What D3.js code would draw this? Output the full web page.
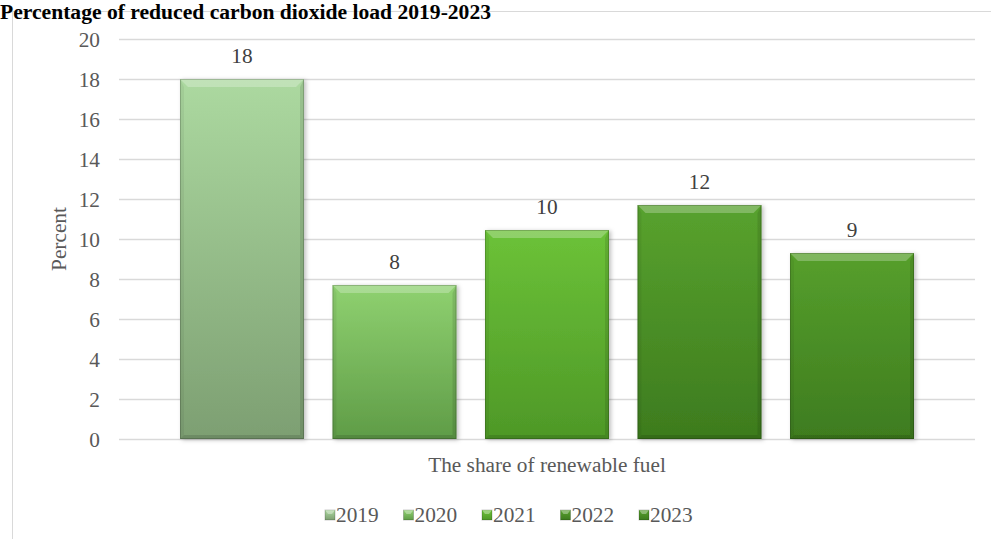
<!DOCTYPE html>
<html>
<head>
<meta charset="utf-8">
<script src="https://cdn.jsdelivr.net/npm/d3@7"></script>
<style>
  html, body { margin: 0; padding: 0; background: #fff; overflow: hidden; }
  svg { display: block; }
  text { font-family: "Liberation Serif", "Times New Roman", serif; }
</style>
</head>
<body>
<svg id="chart" width="991" height="539"></svg>
<script>
// ---- data ----
const title = "Percentage of reduced carbon dioxide load 2019-2023";
const category = "The share of renewable fuel";
const years = ["2019", "2020", "2021", "2022", "2023"];
const values = [18, 7.7, 10.45, 11.7, 9.3];
const labels = ["18", "8", "10", "12", "9"];
const yTicks = [0, 2, 4, 6, 8, 10, 12, 14, 16, 18, 20];
const topColors = ["#acd9a0", "#8fd170", "#6cc238", "#58a22e", "#569f2c"];
const bottomColors = ["#7d9f72", "#5f9c47", "#4e9827", "#3d7b1e", "#3e7c1f"];

const svg = d3.select("#chart");
const fontSize = 21.3;
const plot = { left: 119, right: 975, top: 39, bottom: 439 };

// frame
svg.append("rect")
  .attr("x", 12.5).attr("y", 11.5)
  .attr("width", 1100).attr("height", 700)
  .attr("fill", "#fff").attr("stroke", "#d9d9d9").attr("stroke-width", 1);

// title
svg.append("text")
  .attr("x", 0).attr("y", 19)
  .attr("font-size", 21.6).attr("font-weight", "bold").attr("fill", "#000")
  .text(title);

const y = d3.scaleLinear().domain([0, 20]).range([plot.bottom, plot.top]);
const x = d3.scaleBand().domain(years).range([plot.left, plot.right])
  .paddingInner(0.187).paddingOuter(0.4);

// gridlines
svg.append("g").selectAll("line").data(yTicks).join("line")
  .attr("x1", plot.left).attr("x2", plot.right)
  .attr("y1", d => Math.round(y(d)) + 0.5).attr("y2", d => Math.round(y(d)) + 0.5)
  .attr("stroke", "#d9d9d9").attr("stroke-width", 1.3);

// y axis labels
const yAxis = d3.axisLeft(y).tickValues(yTicks).tickSize(0).tickPadding(0);
const yg = svg.append("g").attr("transform", `translate(100,0)`).call(yAxis);
yg.select(".domain").remove();
yg.selectAll("text")
  .attr("font-family", '"Liberation Serif", "Times New Roman", serif')
  .attr("font-size", fontSize).attr("fill", "#595959").attr("dy", "0.34em");

// y axis title
svg.append("text")
  .attr("transform", "translate(66,239) rotate(-90)")
  .attr("text-anchor", "middle").attr("font-size", fontSize).attr("fill", "#595959")
  .text("Percent");

// gradients & filters
const defs = svg.append("defs");
years.forEach((yr, i) => {
  const g = defs.append("linearGradient").attr("id", "grad" + i)
    .attr("x1", 0).attr("y1", 0).attr("x2", 0).attr("y2", 1);
  g.append("stop").attr("offset", "0%").attr("stop-color", topColors[i]);
  g.append("stop").attr("offset", "100%").attr("stop-color", bottomColors[i]);
});
const f = defs.append("filter").attr("id", "shadow")
  .attr("x", "-10%").attr("y", "-10%").attr("width", "130%").attr("height", "130%");
f.append("feDropShadow").attr("dx", 2).attr("dy", 1).attr("stdDeviation", 2)
  .attr("flood-color", "#000").attr("flood-opacity", 0.25);

// bars
const bars = svg.append("g").selectAll("g").data(years).join("g");
bars.each(function (yr, i) {
  const g = d3.select(this);
  const x0 = x(yr), w = x.bandwidth();
  const y0 = y(values[i]), h = y(0) - y(values[i]);
  const b = 8;
  g.append("rect").attr("x", x0).attr("y", y0).attr("width", w).attr("height", h)
    .attr("fill", `url(#grad${i})`).attr("filter", "url(#shadow)");
  g.append("polygon")
    .attr("points", [[x0, y0], [x0 + w, y0], [x0 + w - b, y0 + b], [x0 + b, y0 + b]].join(" "))
    .attr("fill", "#fff").attr("opacity", 0.25);
  g.append("polygon")
    .attr("points", [[x0, y0], [x0 + b / 2, y0 + b], [x0 + b / 2, y0 + h - b / 2], [x0, y0 + h]].join(" "))
    .attr("fill", "#000").attr("opacity", 0.05);
  g.append("polygon")
    .attr("points", [[x0 + w, y0], [x0 + w - b / 2, y0 + b], [x0 + w - b / 2, y0 + h - b / 2], [x0 + w, y0 + h]].join(" "))
    .attr("fill", "#000").attr("opacity", 0.1);
  g.append("polygon")
    .attr("points", [[x0, y0 + h], [x0 + b / 2, y0 + h - b / 2], [x0 + w - b / 2, y0 + h - b / 2], [x0 + w, y0 + h]].join(" "))
    .attr("fill", "#000").attr("opacity", 0.12);
  g.append("rect").attr("x", x0 + 0.5).attr("y", y0 + 0.5).attr("width", w - 1).attr("height", h - 1)
    .attr("fill", "none").attr("stroke", "#000").attr("stroke-opacity", 0.18);
  g.append("text").attr("x", x0 + w / 2).attr("y", y0 - 16)
    .attr("text-anchor", "middle").attr("font-size", fontSize).attr("fill", "#404040")
    .text(labels[i]);
});

// category axis label
svg.append("text")
  .attr("x", (plot.left + plot.right) / 2).attr("y", 472)
  .attr("text-anchor", "middle").attr("font-size", fontSize).attr("fill", "#595959")
  .text(category);

// legend
const legendX = d3.scalePoint().domain(years).range([325, 639]);
const lg = svg.append("g").selectAll("g").data(years).join("g")
  .attr("transform", d => `translate(${legendX(d)},0)`);
lg.append("rect").attr("x", 0).attr("y", 510).attr("width", 10).attr("height", 10)
  .attr("fill", (d, i) => `url(#grad${i})`).attr("stroke", "#000").attr("stroke-opacity", 0.2);
lg.append("polygon").attr("points", "0,510 10,510 7,514 3,514").attr("fill", "#fff").attr("opacity", 0.35);
lg.append("text").attr("x", 11).attr("y", 522)
  .attr("font-size", fontSize).attr("fill", "#595959").text(d => d);
</script>
</body>
</html>
